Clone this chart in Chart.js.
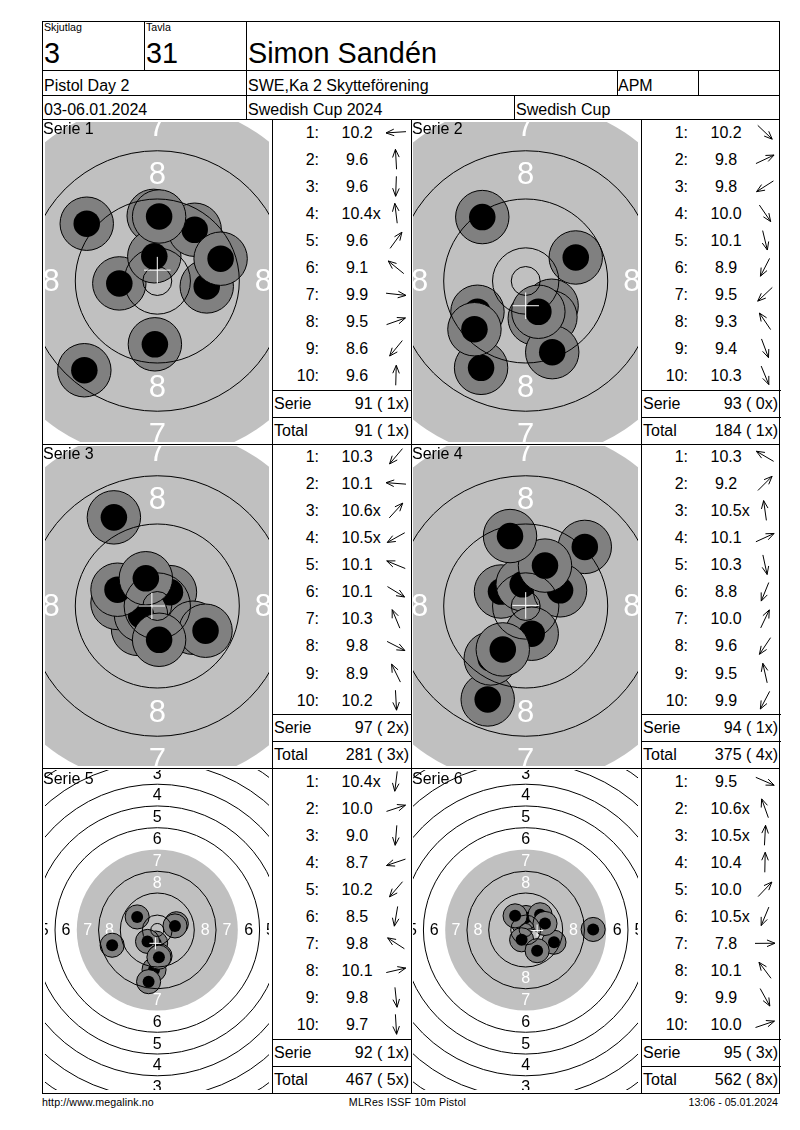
<!DOCTYPE html>
<html>
<head>
<meta charset="utf-8">
<title>Simon Sandén - Swedish Cup 2024</title>
<script src="https://cdn.jsdelivr.net/npm/chart.js@4/dist/chart.umd.min.js"></script>
<style>
    html, body { margin: 0; padding: 0; background: #fff; }
    body { position: relative; width: 800px; height: 1130px; overflow: hidden; font-family: "Liberation Sans", Arial, sans-serif; color: #000; }
    canvas { position: absolute; }
    .t { position: absolute; white-space: pre; }
    .l { position: absolute; background: #000; }
    svg { position: absolute; left: 0; top: 0; }
</style>
</head>
<body>
<svg id="arrows" width="800" height="1130"></svg>
<script>
// Shot values as shown in the tables
const serie1Score = ['10.2', '9.6', '9.6', '10.4x', '9.6', '9.1', '9.9', '9.5', '8.6', '9.6'];
const serie2Score = ['10.2', '9.8', '9.8', '10.0', '10.1', '8.9', '9.5', '9.3', '9.4', '10.3'];
const serie3Score = ['10.3', '10.1', '10.6x', '10.5x', '10.1', '10.1', '10.3', '9.8', '8.9', '10.2'];
const serie4Score = ['10.3', '9.2', '10.5x', '10.1', '10.3', '8.8', '10.0', '9.6', '9.5', '9.9'];
const serie5Score = ['10.4x', '10.0', '9.0', '8.7', '10.2', '8.5', '9.8', '10.1', '9.8', '9.7'];
const serie6Score = ['9.5', '10.6x', '10.5x', '10.4', '10.0', '10.5x', '7.8', '10.1', '9.9', '10.0'];

// Shot positions in mm from the target centre (x right, y up), in firing order
const serie1X = [-6.3, -0.6, -0.4, -0.5, 6.2, -11.7, 8.2, 10.5, -12.1, 0.3];
const serie1Y = [-0.4, 10.8, -10.5, 4.1, 8.5, 9.5, -0.9, 3.7, -14.8, 10.7];
const serie2X = [4.3, 8.3, -8, 4.1, 1.5, -7.4, -8.5, -7.2, 4.4, 2.1];
const serie2Y = [-4.1, 3.9, -5.1, -6, -6.2, -14.4, -8, 10.6, -11.8, -5.1];
const serie3X = [-3.2, -6.6, 2.1, -2.7, -6.6, 5.9, -1.9, 8, -7.2, 0.3];
const serie3Y = [-3.8, 0.5, 2.3, -1.5, 2.7, -3.6, 4.6, -4.1, 14.7, -5.6];
const serie4X = [-4.1, 9.8, -0.5, 5.7, 1, -6.3, 3.2, -5.8, -2.6, -3.8];
const serie4Y = [2.4, 9.8, 3.6, 2.6, -4.6, -15.5, 6.7, -8.7, 11.6, -7.2];
const serie5X = [-0.6, 7, -1.2, -16.6, -3.6, -3.2, -7.4, 6.5, 1, 0.6];
const serie5Y = [-4.8, 2.3, -14.6, -5.6, -4.2, -19, 4.8, 1.5, -9.6, -10];
const serie6X = [10.4, -1, 0.2, 0.1, 5.3, -1.5, 24.8, -3.9, 4.2, 7.1];
const serie6Y = [-4.5, 2.8, 3.6, 4.6, 5.6, -3.6, 0.2, 5.2, -7.6, 2.4];

// Mean point of impact per serie
const meanX = [0, 0, -0.9, 0, -0.7, 4.2];
const meanY = [1.8, -4.1, 0, 0.1, -4.9, -0.2];

const serieNames = ['Serie 1', 'Serie 2', 'Serie 3', 'Serie 4', 'Serie 5', 'Serie 6'];
const serieSums = ['91 ( 1x)', '93 ( 0x)', '97 ( 2x)', '94 ( 1x)', '92 ( 1x)', '95 ( 3x)'];
const totalSums = ['91 ( 1x)', '184 ( 1x)', '281 ( 3x)', '375 ( 4x)', '467 ( 5x)', '562 ( 8x)'];

// Target rings in mm, and the numbers printed in the ring bands
const ringRadii = [2.4, 5.5, 13.6, 21.6, 37.6, 45.6, 53.6, 61.6, 69.6];
const blackRadius = 29.6;
const ringNumbers = [8, 7, 6, 5, 4, 3];
const ringNumberRadii = [17.6, 25.6, 33.6, 41.6, 49.6, 57.6];

// Marks for one shot in mm
const shotRadius = 4.43;
const shotCoreRadius = 2.2;
const crossRadius = 2.2;

const scoreLists = [serie1Score, serie2Score, serie3Score, serie4Score, serie5Score, serie6Score];
const xLists = [serie1X, serie2X, serie3X, serie4X, serie5X, serie6X];
const yLists = [serie1Y, serie2Y, serie3Y, serie4Y, serie5Y, serie6Y];

// Page layout
const pxPerMm = [6.03, 6.03, 6.03, 6.03, 2.72, 2.72];
const columns = [
    { left: 45, width: 224, cx: 157.3, title: 43, table: 272 },
    { left: 413, width: 225, cx: 525.7, title: 412, table: 641 }
];
const rows = [
    { top: 122, cy: 281, offset: 0, step: 27, titleBase: 135 },
    { top: 446, cy: 606, offset: 324, step: 27.1, titleBase: 459.5 },
    { top: 770, cy: 930, offset: 649, step: 27, titleBase: 784.5 }
];

function text(str, x, base, size, align, spacing) {
    const el = document.createElement('div');
    el.className = 't';
    el.textContent = str;
    el.style.fontSize = size + 'px';
    el.style.lineHeight = size + 'px';
    el.style.top = (base - 0.8465 * size) + 'px';
    if (spacing) el.style.letterSpacing = spacing + 'px';
    if (align === 'right') {
        el.style.right = (800 - x) + 'px';
    } else if (align === 'center') {
        el.style.left = (x - 200) + 'px';
        el.style.width = '400px';
        el.style.textAlign = 'center';
    } else {
        el.style.left = x + 'px';
    }
    el.style.zIndex = 3;
    document.body.appendChild(el);
}

function hLine(x1, x2, y) {
    const el = document.createElement('div');
    el.className = 'l';
    el.style.cssText = `left:${x1}px;top:${y}px;width:${x2 - x1 + 1}px;height:1px`;
    document.body.appendChild(el);
}

function vLine(x, y1, y2) {
    const el = document.createElement('div');
    el.className = 'l';
    el.style.cssText = `left:${x}px;top:${y1}px;width:1px;height:${y2 - y1 + 1}px`;
    document.body.appendChild(el);
}

// Length of a distance in mm on the x scale
function mmToPx(chart, mm) {
    const x = chart.scales.x;
    return x.getPixelForValue(mm) - x.getPixelForValue(0);
}

// Ring numbers go between the black area and the shots
const ringNumberPlugin = {
    id: 'ringNumbers',
    beforeDatasetDraw(chart, args) {
        if (args.index !== 1) return;
        const ctx = chart.ctx;
        const { x, y } = chart.scales;
        const size = chart.options.plugins.ringNumbers.size;
        ctx.save();
        ctx.font = size + 'px "Liberation Sans", Arial, sans-serif';
        ctx.textAlign = 'center';
        ctx.textBaseline = 'middle';
        ringNumbers.forEach((n, i) => {
            const r = ringNumberRadii[i];
            ctx.fillStyle = n >= 7 ? '#fff' : '#000';
            ctx.fillText(n, x.getPixelForValue(0), y.getPixelForValue(r) + 1);
            ctx.fillText(n, x.getPixelForValue(0), y.getPixelForValue(-r) + 1);
            ctx.fillText(n, x.getPixelForValue(r), y.getPixelForValue(0) + 1);
            ctx.fillText(n, x.getPixelForValue(-r), y.getPixelForValue(0) + 1);
        });
        ctx.restore();
    }
};

function createTarget(i) {
    const col = columns[i % 2];
    const row = rows[Math.floor(i / 2)];
    const ppm = pxPerMm[i];
    const height = 320;

    const canvas = document.createElement('canvas');
    canvas.width = col.width;
    canvas.height = height;
    canvas.style.left = col.left + 'px';
    canvas.style.top = row.top + 'px';
    canvas.style.width = col.width + 'px';
    canvas.style.height = height + 'px';
    document.body.appendChild(canvas);

    // Every shot is two points: the grey hole and its black core on top
    const shotPoints = [];
    xLists[i].forEach((x, s) => {
        shotPoints.push({ x: x, y: yLists[i][s] });
        shotPoints.push({ x: x, y: yLists[i][s] });
    });

    new Chart(canvas, {
        type: 'scatter',
        data: {
            datasets: [
                {
                    label: 'Black',
                    data: [{ x: 0, y: 0 }],
                    order: 3,
                    clip: 0,
                    pointRadius: ctx => mmToPx(ctx.chart, blackRadius),
                    pointBackgroundColor: '#c0c0c0',
                    pointBorderWidth: 0
                },
                {
                    label: 'Shots',
                    data: shotPoints,
                    order: 2,
                    clip: 0,
                    pointRadius: ctx => mmToPx(ctx.chart, ctx.dataIndex % 2 ? shotCoreRadius : shotRadius),
                    pointBackgroundColor: ctx => ctx.dataIndex % 2 ? '#000' : '#808080',
                    pointBorderColor: '#000',
                    pointBorderWidth: ctx => ctx.dataIndex % 2 ? 0 : 1
                },
                {
                    label: 'Rings',
                    data: ringRadii.map(() => ({ x: 0, y: 0 })),
                    order: 1,
                    clip: 0,
                    pointRadius: ctx => mmToPx(ctx.chart, ringRadii[ctx.dataIndex]),
                    pointBackgroundColor: 'rgba(0,0,0,0)',
                    pointBorderColor: '#000',
                    pointBorderWidth: 1
                },
                {
                    label: 'Mean',
                    data: [{ x: meanX[i], y: meanY[i] }],
                    order: 0,
                    clip: 0,
                    pointStyle: 'cross',
                    pointRadius: ctx => mmToPx(ctx.chart, crossRadius),
                    pointBorderColor: '#fff',
                    pointBorderWidth: 1
                }
            ]
        },
        options: {
            responsive: false,
            animation: false,
            devicePixelRatio: 1,
            events: [],
            layout: { padding: 0 },
            plugins: {
                legend: { display: false },
                tooltip: { enabled: false },
                ringNumbers: { size: i < 4 ? 31 : 16 }
            },
            scales: {
                x: {
                    type: 'linear',
                    display: false,
                    bounds: 'data',
                    min: (col.left - col.cx) / ppm,
                    max: (col.left + col.width - col.cx) / ppm
                },
                y: {
                    type: 'linear',
                    display: false,
                    bounds: 'data',
                    min: (row.cy - row.top - height) / ppm,
                    max: (row.cy - row.top) / ppm
                }
            }
        },
        plugins: [ringNumberPlugin]
    });
}

// Arrow points from the target centre towards the shot
function addArrow(cx, cy, dx, dy) {
    const len = Math.hypot(dx, dy) || 1;
    const ux = dx / len;
    const uy = -dy / len;
    const tipX = cx + ux * 10;
    const tipY = cy + uy * 10;
    const parts = [`M${cx - ux * 10} ${cy - uy * 10}L${tipX} ${tipY}`];
    [1, -1].forEach(side => {
        const bx = tipX - ux * 8 - uy * 3.3 * side;
        const by = tipY - uy * 8 + ux * 3.3 * side;
        parts.push(`M${tipX} ${tipY}L${bx} ${by}`);
    });
    const path = document.createElementNS('http://www.w3.org/2000/svg', 'path');
    path.setAttribute('d', parts.join(''));
    path.setAttribute('stroke', '#000');
    path.setAttribute('fill', 'none');
    document.getElementById('arrows').appendChild(path);
}

function createTable(i) {
    const col = columns[i % 2];
    const row = rows[Math.floor(i / 2)];
    const left = col.table;

    scoreLists[i].forEach((score, s) => {
        const base = 138.3 + row.offset + s * row.step;
        text((s + 1) + ':', left + 47, base, 16, 'right');
        text(score.startsWith('10') ? score : ' ' + score, left + 69.5, base, 16);
        addArrow(left + 124, base - 6, xLists[i][s], yLists[i][s]);
    });

    hLine(left, left + 139, 390 + row.offset);
    hLine(left, left + 139, 417 + row.offset);
    text('Serie', left + 2, 409.5 + row.offset, 16);
    text(serieSums[i], left + 137, 409.5 + row.offset, 16, 'right');
    text('Total', left + 2, 436.5 + row.offset, 16);
    text(totalSums[i], left + 137, 436.5 + row.offset, 16, 'right');

    text(serieNames[i], col.title, row.titleBase, 16);
}

function createFrame() {
    hLine(42, 779, 21);
    hLine(42, 779, 70);
    hLine(42, 779, 95);
    hLine(42, 779, 119);
    hLine(42, 779, 444);
    hLine(42, 779, 768);
    hLine(42, 779, 1093);
    vLine(42, 21, 1093);
    vLine(779, 21, 1093);
    vLine(144, 21, 70);
    vLine(246, 21, 119);
    vLine(617, 70, 95);
    vLine(698, 70, 95);
    vLine(514, 95, 119);
    vLine(272, 119, 1093);
    vLine(411, 119, 1093);
    vLine(641, 119, 1093);

    text('Skjutlag', 44, 31, 10.67);
    text('Tavla', 146, 31, 10.67);
    text('3', 44, 63.5, 28.8);
    text('31', 146, 63.5, 28.8);
    text('Simon Sandén', 248, 63.5, 28.8);
    text('Pistol Day 2', 44, 91.5, 16);
    text('SWE,Ka 2 Skytteförening', 248, 91.5, 16);
    text('APM', 618, 91.5, 16);
    text('03-06.01.2024', 44, 115.5, 16);
    text('Swedish Cup 2024', 248, 115.5, 16);
    text('Swedish Cup', 516, 115.5, 16);
    text('http://www.megalink.no', 42, 1106, 10.67, 'left', 0.1);
    text('MLRes ISSF 10m Pistol', 407.5, 1106, 10.67, 'center', 0.2);
    text('13:06 - 05.01.2024', 778, 1106, 10.67, 'right');
}

createFrame();
for (let i = 0; i < 6; i++) {
    createTarget(i);
    createTable(i);
}
</script>
</body>
</html>
